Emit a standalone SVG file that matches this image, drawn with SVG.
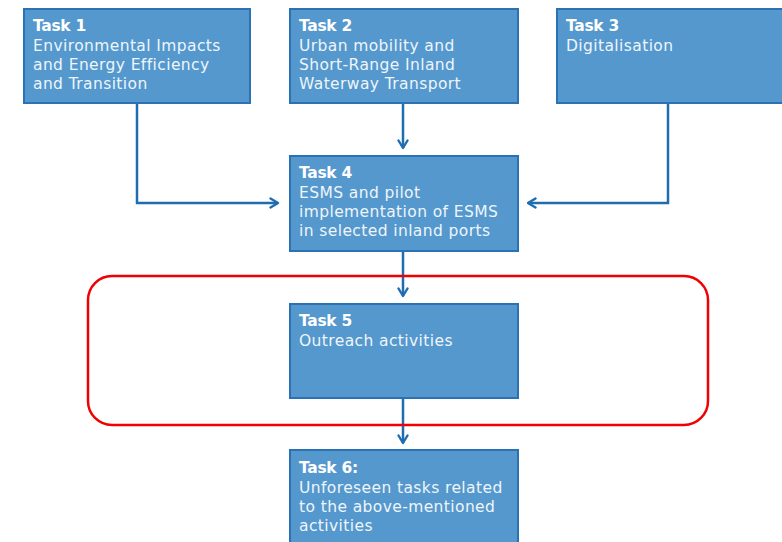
<svg xmlns="http://www.w3.org/2000/svg" width="782" height="542" viewBox="0 0 782 542">
<defs>
<marker id="arr" viewBox="0 0 12 12" refX="10.5" refY="6" markerWidth="12" markerHeight="12" markerUnits="userSpaceOnUse" orient="auto">
<path d="M3,1.5 L10.5,6 L3,10.5" fill="none" stroke="#1f6db1" stroke-width="2.4" stroke-linecap="round" stroke-linejoin="round"/>
</marker>
<style>
.box{fill:#5598cd;stroke:#2a72b3;stroke-width:2}
.t{font-family:"DejaVu Sans","Open Sans",sans-serif;font-size:15.5px;fill:#ffffff}
.h{font-weight:bold;letter-spacing:-0.3px}
.b{fill:#eef5fb;letter-spacing:0.4px}
.c{fill:none;stroke:#1f6db1;stroke-width:2.5}
</style>
</defs>
<rect width="782" height="542" fill="#ffffff"/>
<g id="connectors">
<path class="c" d="M137,103 V203 H278" marker-end="url(#arr)"/>
<path class="c" d="M403,103 V148" marker-end="url(#arr)"/>
<path class="c" d="M668,103 V203 H528" marker-end="url(#arr)"/>
<path class="c" d="M403,251 V296" marker-end="url(#arr)"/>
<path class="c" d="M403,398 V443" marker-end="url(#arr)"/>
</g>
<g id="task1">
<rect class="box" x="24" y="9" width="226" height="94"/>
<text class="t h" x="33" y="31">Task 1</text>
<text class="t b" x="33" y="51">Environmental Impacts</text>
<text class="t b" x="33" y="70">and Energy Efficiency</text>
<text class="t b" x="33" y="89">and Transition</text>
</g>
<g id="task2">
<rect class="box" x="290" y="9" width="228" height="94"/>
<text class="t h" x="299" y="31">Task 2</text>
<text class="t b" x="299" y="51">Urban mobility and</text>
<text class="t b" x="299" y="70">Short-Range Inland</text>
<text class="t b" x="299" y="89">Waterway Transport</text>
</g>
<g id="task3">
<rect class="box" x="557" y="9" width="228" height="94"/>
<text class="t h" x="566" y="31">Task 3</text>
<text class="t b" x="566" y="51">Digitalisation</text>
</g>
<g id="task4">
<rect class="box" x="290" y="156" width="228" height="95"/>
<text class="t h" x="299" y="178">Task 4</text>
<text class="t b" x="299" y="198">ESMS and pilot</text>
<text class="t b" x="299" y="217">implementation of ESMS</text>
<text class="t b" x="299" y="236">in selected inland ports</text>
</g>
<g id="task5">
<rect class="box" x="290" y="304" width="228" height="94"/>
<text class="t h" x="299" y="326">Task 5</text>
<text class="t b" x="299" y="346">Outreach activities</text>
</g>
<g id="task6">
<rect class="box" x="290" y="450" width="228" height="96"/>
<text class="t h" x="299" y="473">Task 6:</text>
<text class="t b" x="299" y="493">Unforeseen tasks related</text>
<text class="t b" x="299" y="512">to the above-mentioned</text>
<text class="t b" x="299" y="531">activities</text>
</g>
<g id="highlight">
<rect x="88" y="276" width="620" height="149" rx="24" ry="24" fill="none" stroke="#f00000" stroke-width="2.5"/>
</g>
</svg>
